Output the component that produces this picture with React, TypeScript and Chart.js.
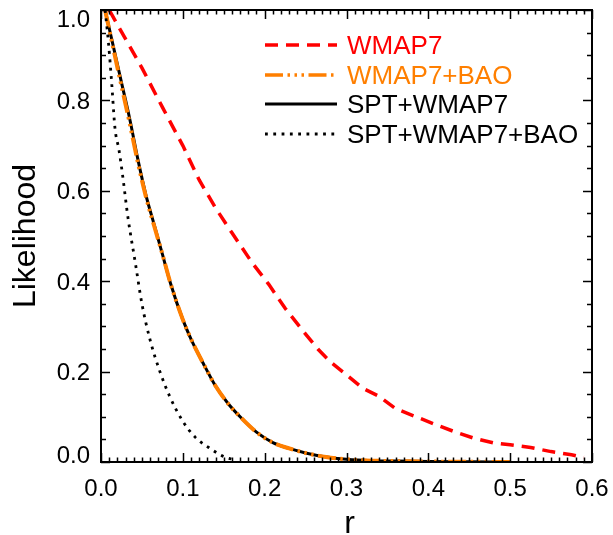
import React, { useEffect, useRef } from 'react';
import { Chart, registerables } from 'chart.js';

Chart.register(...registerables);

const FONT = '"Liberation Sans", Arial, Helvetica, sans-serif';

// ---- data ----
const R_WMAP7 = [0.01, 0.05, 0.075, 0.1, 0.12, 0.14, 0.16, 0.185, 0.205, 0.225, 0.25, 0.265, 0.28, 0.3, 0.32, 0.34, 0.36, 0.385, 0.41, 0.435, 0.455, 0.48, 0.5, 0.525, 0.55, 0.575, 0.59];
const L_WMAP7 = [1.0, 0.872, 0.785, 0.7, 0.624, 0.562, 0.507, 0.44, 0.393, 0.34, 0.283, 0.25, 0.222, 0.193, 0.163, 0.145, 0.118, 0.1, 0.082, 0.065, 0.053, 0.042, 0.038, 0.032, 0.023, 0.016, 0.01];

const R_SPT = [0.005, 0.015, 0.025, 0.035, 0.045, 0.055, 0.065, 0.075, 0.085, 0.1, 0.11, 0.125, 0.14, 0.155, 0.17, 0.19, 0.21, 0.23, 0.25, 0.275, 0.3, 0.33, 0.36, 0.4, 0.45, 0.5];
const L_SPT = [1.0, 0.92, 0.84, 0.76, 0.67, 0.59, 0.525, 0.46, 0.395, 0.315, 0.272, 0.218, 0.168, 0.13, 0.1, 0.066, 0.043, 0.03, 0.02, 0.011, 0.006, 0.003, 0.002, 0.001, 0.0005, 0.0];

const R_BAO = [0.005, 0.015, 0.025, 0.035, 0.045, 0.055, 0.065, 0.075, 0.085, 0.1, 0.11, 0.125, 0.14, 0.155, 0.17, 0.19, 0.21, 0.23, 0.25, 0.275, 0.3, 0.33, 0.36, 0.4, 0.45, 0.5];
const L_BAO = [1.0, 0.915, 0.832, 0.75, 0.663, 0.586, 0.522, 0.46, 0.395, 0.315, 0.272, 0.218, 0.168, 0.13, 0.1, 0.066, 0.043, 0.03, 0.02, 0.011, 0.006, 0.003, 0.002, 0.001, 0.0005, 0.0];

const R_SPT_BAO = [0.005, 0.009, 0.013, 0.017, 0.022, 0.026, 0.033, 0.042, 0.05, 0.06, 0.072, 0.084, 0.1, 0.115, 0.135, 0.15, 0.165];
const L_SPT_BAO = [1.0, 0.93, 0.84, 0.74, 0.69, 0.64, 0.54, 0.44, 0.35, 0.27, 0.2, 0.145, 0.09, 0.055, 0.028, 0.012, 0.004];

const X_TICKS = [0, 0.1, 0.2, 0.3, 0.4, 0.5, 0.6];
const Y_TICKS = [0, 0.2, 0.4, 0.6, 0.8, 1.0];
const SERIES_NAMES = ['WMAP7', 'WMAP7+BAO', 'SPT+WMAP7', 'SPT+WMAP7+BAO'];

const RED = '#ff0000';
const ORANGE = '#ff7f00';
const BLACK = '#000000';

const STYLES = [
  { color: RED, width: 3.5, dash: [13, 8], text: RED },
  { color: ORANGE, width: 3.5, dash: [18, 4.5, 2.5, 4.5, 2.5, 4.5, 2.5, 4.5], text: ORANGE },
  { color: BLACK, width: 3, dash: [] as number[], text: BLACK },
  { color: BLACK, width: 2.8, dash: [2.8, 5.5], text: BLACK },
];

const pts = (xs: number[], ys: number[]) => xs.map((x, i) => ({ x, y: ys[i] }));

const decor = {
  id: 'decor',
  afterDraw(chart: any) {
    const ctx = chart.ctx as CanvasRenderingContext2D;
    const { left, right, top, bottom } = chart.chartArea;
    const xs = chart.scales.x;
    const ys = chart.scales.y;
    ctx.save();
    ctx.strokeStyle = '#000';
    ctx.fillStyle = '#000';
    ctx.lineWidth = 2;
    ctx.strokeRect(left, top, right - left, bottom - top);
    ctx.lineWidth = 1.5;
    ctx.beginPath();
    for (let i = 0; i <= 60; i++) {
      const px = Math.round(xs.getPixelForValue(i / 100)) + 0.5;
      const len = i % 10 === 0 ? 9 : 4.5;
      ctx.moveTo(px, bottom);
      ctx.lineTo(px, bottom - len);
      ctx.moveTo(px, top);
      ctx.lineTo(px, top + len);
    }
    for (let j = 0; j <= 20; j++) {
      const py = Math.round(ys.getPixelForValue(j / 20)) + 0.5;
      const len = j % 4 === 0 ? 9 : 5;
      ctx.moveTo(left, py);
      ctx.lineTo(left + len, py);
      ctx.moveTo(right, py);
      ctx.lineTo(right - len, py);
    }
    ctx.stroke();

    const fs = 24;
    ctx.font = `${fs}px ${FONT}`;
    ctx.textBaseline = 'alphabetic';
    ctx.textAlign = 'center';
    X_TICKS.forEach((v) => {
      ctx.fillText(v.toFixed(1), xs.getPixelForValue(v), bottom + 17 + 0.716 * fs);
    });
    ctx.textAlign = 'right';
    Y_TICKS.forEach((v) => {
      let cy = ys.getPixelForValue(v);
      cy = Math.max(top + 8, Math.min(bottom - 8, cy));
      ctx.fillText(v.toFixed(1), left - 11, cy + 0.358 * fs);
    });

    ctx.font = `32px ${FONT}`;
    ctx.textAlign = 'center';
    ctx.fillText('r', (left + right) / 2 + 3, 533);
    ctx.save();
    ctx.translate(35, (top + bottom) / 2);
    ctx.rotate(-Math.PI / 2);
    ctx.fillText('Likelihood', 0, 0);
    ctx.restore();

    const rows = [45, 75, 104, 134];
    ctx.font = `26px ${FONT}`;
    ctx.textAlign = 'left';
    STYLES.forEach((s, i) => {
      const y = rows[i];
      ctx.save();
      ctx.strokeStyle = s.color;
      ctx.lineWidth = s.width;
      ctx.setLineDash(s.dash);
      ctx.beginPath();
      ctx.moveTo(265, y);
      ctx.lineTo(337, y);
      ctx.stroke();
      ctx.restore();
      ctx.fillStyle = s.text;
      ctx.fillText(SERIES_NAMES[i], 347, y + 9);
    });
    ctx.restore();
  },
};

export default function App() {
  const ref = useRef<HTMLCanvasElement | null>(null);
  useEffect(() => {
    document.body.style.margin = '0';
    const canvas = ref.current;
    if (!canvas) return;
    const mk = (i: number, data: any[], mono: boolean, width?: number) => ({
      label: SERIES_NAMES[i],
      data,
      showLine: true,
      borderColor: STYLES[i].color,
      borderWidth: width ?? STYLES[i].width,
      borderDash: STYLES[i].dash,
      pointRadius: 0,
      fill: false,
      tension: 0,
      cubicInterpolationMode: mono ? 'monotone' : 'default',
    });
    // index 0 is drawn on top in Chart.js
    const chart = new Chart(canvas, {
      type: 'scatter',
      data: {
        datasets: [
          mk(3, pts(R_SPT_BAO, L_SPT_BAO), true),
          mk(1, pts(R_BAO, L_BAO), true, 4),
          mk(2, pts(R_SPT, L_SPT), true),
          mk(0, pts(R_WMAP7, L_WMAP7), false),
        ] as any,
      },
      options: {
        responsive: false,
        animation: false,
        layout: { padding: { left: 101, right: 21, top: 10, bottom: 73 } },
        plugins: { legend: { display: false }, tooltip: { enabled: false } },
        scales: {
          x: { type: 'linear', min: 0, max: 0.6, display: false },
          y: { type: 'linear', min: 0, max: 1, display: false },
        },
      } as any,
      plugins: [decor],
    });
    return () => chart.destroy();
  }, []);
  return <canvas ref={ref} width={613} height={535} style={{ display: 'block', width: 613, height: 535 }} />;
}
